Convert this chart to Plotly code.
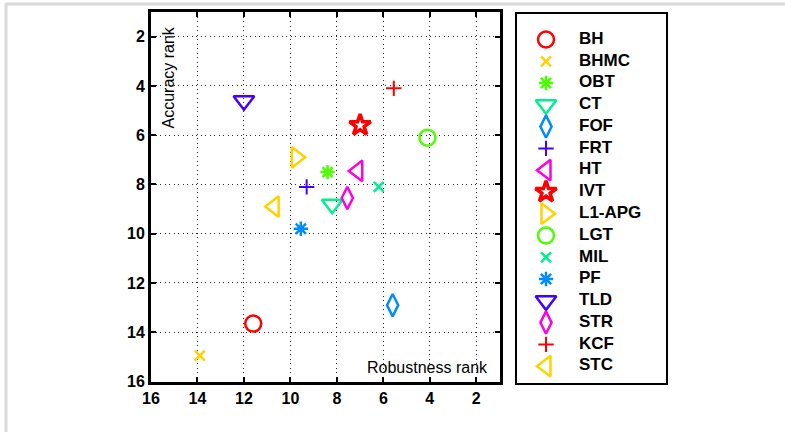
import plotly.graph_objects as go

# ---- data ----
methods = ['BH', 'BHMC', 'OBT', 'CT', 'FOF', 'FRT', 'HT', 'IVT', 'L1-APG',
           'LGT', 'MIL', 'PF', 'TLD', 'STR', 'KCF', 'STC']
robustness_rank = [11.6, 13.9, 8.4, 8.2, 5.6, 9.3, 7.1, 7.0, 9.75,
                   4.1, 6.2, 9.55, 12.0, 7.55, 5.55, 10.7]
accuracy_rank = [13.65, 14.95, 7.5, 8.8, 12.9, 8.1, 7.45, 5.6, 6.9,
                 6.1, 8.1, 9.8, 4.6, 8.55, 4.1, 8.9]
tick_vals = [16, 14, 12, 10, 8, 6, 4, 2]

# ---- styles ----
palette = ['#FF0000', '#FFD200', '#49FF00', '#00F08C', '#008CFF', '#4400FF', '#FF00E0']
symbols = ['circle-open', 'x-thin-open', 'asterisk-open', 'triangle-down-open',
           'diamond-tall-open', 'cross-thin-open', 'triangle-left-open', 'star-open',
           'triangle-right-open', 'circle-open', 'x-thin-open', 'asterisk-open',
           'triangle-down-open', 'diamond-tall-open', 'cross-thin-open', 'triangle-left-open']
sym_size = {'circle-open': 16, 'x-thin-open': 10, 'asterisk-open': 12,
            'triangle-down-open': 18, 'diamond-tall-open': 16, 'cross-thin-open': 11,
            'triangle-left-open': 18, 'star-open': 16, 'triangle-right-open': 18}
sym_width = {'circle-open': 2.5, 'x-thin-open': 2.5, 'asterisk-open': 2.5,
             'triangle-down-open': 2.5, 'diamond-tall-open': 2.5, 'cross-thin-open': 2,
             'triangle-left-open': 2.5, 'star-open': 3.5, 'triangle-right-open': 2.5}
colors = [palette[i % len(palette)] for i in range(len(methods))]
sizes = [sym_size[s] for s in symbols]
widths = [sym_width[s] for s in symbols]

FONT = 'Liberation Sans, Arial, Helvetica, sans-serif'
W, H = 785, 432

fig = go.Figure()

marker_style = dict(symbol=symbols, size=sizes, color=colors, opacity=1,
                    line=dict(color=colors, width=widths))

# main scatter
fig.add_trace(go.Scatter(
    x=robustness_rank, y=accuracy_rank, mode='markers', showlegend=False,
    marker=marker_style, xaxis='x', yaxis='y', hoverinfo='text', text=methods))

# manual legend (markers on secondary axes, indexed by position in list)
idx = list(range(len(methods)))
fig.add_trace(go.Scatter(
    x=[0] * len(methods), y=idx, mode='markers', showlegend=False,
    marker=marker_style, xaxis='x2', yaxis='y2', hoverinfo='skip'))
fig.add_trace(go.Scatter(
    x=[33] * len(methods), y=idx, mode='text', text=methods,
    textposition='middle right', showlegend=False,
    textfont=dict(family=FONT, size=17, color='black', weight='bold'),
    xaxis='x2', yaxis='y2', hoverinfo='skip'))

def px_x(p):
    return p / W

def px_y(p):
    return 1 - p / H

axis_common = dict(
    showline=True, linecolor='black', linewidth=3, mirror='allticks',
    ticks='inside', ticklen=5, tickwidth=2, tickcolor='black',
    showgrid=True, gridcolor='rgba(0,0,0,0.85)', gridwidth=1.3, griddash='1px,3.5px',
    zeroline=False, automargin=False,
    tickfont=dict(family=FONT, size=16, color='black', weight='bold'),
)

fig.update_layout(
    width=W, height=H,
    margin=dict(l=0, r=0, t=0, b=0),
    paper_bgcolor='white', plot_bgcolor='white',
    xaxis=dict(domain=[px_x(151), px_x(499.5)], range=[16, 1],
               tickvals=tick_vals, ticktext=[str(v) for v in tick_vals],
               anchor='y', **axis_common),
    yaxis=dict(domain=[px_y(381.5), px_y(12)], range=[16, 1],
               tickvals=tick_vals, ticktext=[str(v) for v in tick_vals],
               anchor='x', **axis_common),
    xaxis2=dict(domain=[px_x(517), px_x(666)], range=[-29, 120],
                showline=True, linecolor='black', linewidth=2, mirror=True,
                showgrid=False, zeroline=False, showticklabels=False, ticks='',
                anchor='y2'),
    yaxis2=dict(domain=[px_y(382.5), px_y(14)], range=[15.75, -1.17],
                showline=True, linecolor='black', linewidth=2, mirror=True,
                showgrid=False, zeroline=False, showticklabels=False, ticks='',
                anchor='x2'),
    showlegend=False,
)

# axis titles placed inside the axes, as in the original
fig.add_annotation(text='Accuracy rank', xref='paper', yref='paper',
                   x=px_x(168), y=px_y(77.5), xanchor='center', yanchor='middle',
                   textangle=-90, showarrow=False,
                   font=dict(family=FONT, size=16, color='black'))
fig.add_annotation(text='Robustness rank', xref='paper', yref='paper',
                   x=px_x(490), y=px_y(367), xanchor='right', yanchor='middle',
                   showarrow=False,
                   font=dict(family=FONT, size=16, color='black'))

# light grey window frame (top and left)
fig.add_shape(type='line', xref='paper', yref='paper', x0=px_x(5), x1=1,
              y0=px_y(4), y1=px_y(4), line=dict(color='#D9D9D9', width=3))
fig.add_shape(type='line', xref='paper', yref='paper', x0=px_x(6), x1=px_x(6),
              y0=0, y1=px_y(4), line=dict(color='#D9D9D9', width=3))

fig.write_html('out.html')
